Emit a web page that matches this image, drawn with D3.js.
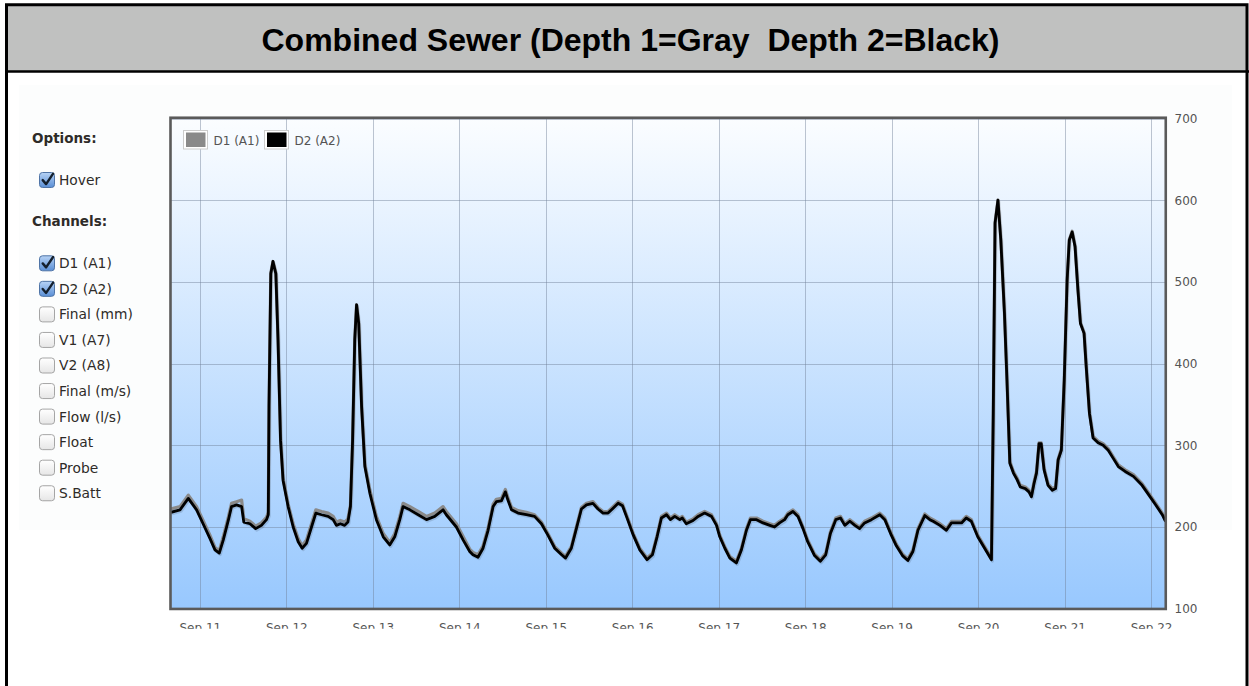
<!DOCTYPE html>
<html><head><meta charset="utf-8">
<script src="https://cdn.jsdelivr.net/npm/d3@7"></script>
<style>
html,body{margin:0;padding:0;background:#fff;overflow:hidden}
svg{display:block}
</style></head><body>
<svg id="c" width="1249" height="686"></svg>
<script>
// ---------------- data ----------------
const titleText = "Combined Sewer (Depth 1=Gray  Depth 2=Black)";
const seriesNames = ["D1 (A1)", "D2 (A2)"];
const seriesColors = ["#8a8a8a", "#000000"];
const yTicks = [100, 200, 300, 400, 500, 600, 700];
const dayTicks = ["2013-09-11","2013-09-12","2013-09-13","2013-09-14","2013-09-15","2013-09-16",
                  "2013-09-17","2013-09-18","2013-09-19","2013-09-20","2013-09-21","2013-09-22"];
const timeStart = "2013-09-10T16:00";
const timeEnd = "2013-09-22T04:00";
const baseDay = "2013-09-11T00:00";
// hours after Sep 11 00:00
const hoursFromSep11 = [
 -8,-5.5,-3.2,-0.9,0.9,2.8,4.2,5.4,6.5,7.9,
 8.8,10.2,11.6,12.2,13.9,15.5,17.1,18.5,19.0,19.2,
 19.7,20.3,21.1,21.7,22.4,23.1,24.5,25.9,27.3,28.4,
 29.6,31.0,32.2,33.8,35.6,37.0,37.9,39.0,40.2,41.1,
 41.8,42.4,43.0,43.5,44.1,44.9,45.8,47.2,49.0,50.9,
 52.7,54.1,55.5,56.4,58.3,60.6,62.9,65.2,67.5,68.4,
 71.2,73.1,74.9,
 75.8,77.2,78.6,80.0,81.4,82.3,83.7,84.8,85.5,86.5,
 88.3,90.6,92.9,94.8,96.6,98.5,100.4,101.5,103.1,104.5,
 105.9,107.3,109.1,110.5,111.9,113.3,114.7,116.1,117.3,118.4,
 120.3,122.1,124.1,125.6,126.9,128.1,129.5,130.6,131.8,133.2,
 133.9,135.0,136.9,138.3,140.1,142.0,143.4,144.3,145.7,147.1,
 148.9,150.3,151.7,152.8,154.5,156.3,158.2,159.5,160.9,162.3,
 163.2,164.6,166.0,167.4,168.7,170.6,172.2,173.7,175.0,176.5,
 177.8,179.0,180.4,181.8,183.1,184.5,186.4,188.7,190.1,191.9,
 193.3,195.0,196.5,197.9,199.3,201.2,202.6,203.5,205.4,207.2,
 208.6,210.4,211.4,212.7,214.1,215.9,217.8,219.7,
 220.2,220.7,221.5,222.3,223.3,224.0,224.8,225.8,226.8,227.7,
 229.1,230.1,230.8,231.5,232.2,232.9,233.5,234.3,235.4,236.6,
 237.5,238.2,239.1,239.9,240.7,241.3,242.1,242.9,243.7,244.4,
 245.4,246.0,246.9,247.9,249.3,250.7,252.1,253.5,254.9,256.8,
 259.1,261.5,263.4,265.3,267.1,268
];
const d1Values = [
 222,225,239,225,208,190,175,171,188,212,
 229,231,233,210,207,201,205,212,218,348,
 511,525,511,431,309,260,228,204,186,177,
 184,204,221,219,217,213,206,208,206,210,
 227,307,430,472,450,349,277,245,213,192,
 181,192,213,229,225,219,213,217,225,219,
 204,188,173,
 169,166,177,199,228,234,235,246,236,224,
 220,218,215,206,192,176,168,164,176,200,
 224,229,231,224,219,219,225,231,228,215,
 192,174,162,168,190,213,217,211,215,211,
 213,206,210,215,219,215,204,190,176,164,
 158,174,198,211,211,207,204,202,207,211,
 217,221,215,200,184,167,160,168,194,211,
 213,204,209,204,200,207,211,217,211,192,
 179,167,161,172,198,216,211,209,204,198,
 207,207,207,213,209,190,176,162,
 341,573,600,552,463,381,280,268,260,251,
 249,245,239,255,268,303,303,272,253,247,
 249,283,296,381,503,552,562,544,491,450,
 438,397,340,311,305,302,296,286,276,270,
 264,253,241,229,217,209
];
const d2Values = [
 218,221,235,221,204,186,172,168,184,208,
 225,227,225,206,204,198,202,209,215,347,
 510,525,510,429,306,257,225,200,182,174,
 180,200,217,215,213,209,202,204,202,206,
 225,306,429,472,449,347,274,241,209,188,
 178,188,209,225,221,215,209,213,221,215,
 200,184,170,
 166,163,174,196,225,231,232,243,233,221,
 217,215,213,204,190,174,166,162,174,198,
 222,227,229,222,217,217,223,229,226,213,
 190,172,160,166,188,211,215,209,213,209,
 211,204,208,213,217,213,202,188,174,162,
 156,172,196,209,209,205,202,200,205,209,
 215,219,213,198,182,165,158,166,192,209,
 211,202,207,202,198,205,209,215,209,190,
 177,165,159,170,196,214,209,207,202,196,
 205,205,205,211,207,188,174,160,
 339,572,600,551,462,380,278,266,258,249,
 247,243,237,253,266,302,302,270,251,245,
 247,282,294,380,502,551,561,543,490,449,
 437,396,339,309,303,300,294,284,274,268,
 262,251,239,227,215,207
];
const optionLabels = ["Hover"];
const optionChecked = [true];
const channelLabels = ["D1 (A1)","D2 (A2)","Final (mm)","V1 (A7)","V2 (A8)","Final (m/s)","Flow (l/s)","Float","Probe","S.Batt"];
const channelChecked = [true,true,false,false,false,false,false,false,false,false];

// ---------------- drawing ----------------
const svg = d3.select("#c");
const parse = d3.timeParse("%Y-%m-%dT%H:%M");
const parseDay = d3.timeParse("%Y-%m-%d");
const base = parse(baseDay);
const toDate = h => new Date(base.getTime() + h * 3600000);

const plot = {left: 171, right: 1165.5, top: 118.5, bottom: 608.7};
const x = d3.scaleTime().domain([parse(timeStart), parse(timeEnd)]).range([plot.left, plot.right]);
const y = d3.scaleLinear().domain([100, 700]).range([plot.bottom, plot.top]);

const defs = svg.append("defs");
const bg = defs.append("linearGradient").attr("id","bg").attr("x1",0).attr("y1",0).attr("x2",0).attr("y2",1);
bg.append("stop").attr("offset","0%").attr("stop-color","#fbfdff");
bg.append("stop").attr("offset","100%").attr("stop-color","#98c8fe");
const cbOn = defs.append("linearGradient").attr("id","cbOn").attr("x1",0).attr("y1",0).attr("x2",0).attr("y2",1);
cbOn.append("stop").attr("offset","0%").attr("stop-color","#b7d3f5");
cbOn.append("stop").attr("offset","100%").attr("stop-color","#5a8fd6");
const cbOff = defs.append("linearGradient").attr("id","cbOff").attr("x1",0).attr("y1",0).attr("x2",0).attr("y2",1);
cbOff.append("stop").attr("offset","0%").attr("stop-color","#ffffff");
cbOff.append("stop").attr("offset","100%").attr("stop-color","#e6e6e6");
defs.append("clipPath").attr("id","plotClip").append("rect")
  .attr("x",plot.left).attr("y",plot.top).attr("width",plot.right-plot.left).attr("height",plot.bottom-plot.top);
defs.append("clipPath").attr("id","xLabClip").append("rect")
  .attr("x",100).attr("y",610).attr("width",1149).attr("height",18.8);

// page panels
svg.append("rect").attr("x",19).attr("y",85).attr("width",1213).attr("height",445).attr("fill","#fcfdfd");
svg.append("rect").attr("x",6.5).attr("y",4.75).attr("width",1240.5).attr("height",66.75).attr("fill","#c0c1c0");
svg.append("rect").attr("x",6.5).attr("y",4.75).attr("width",1240.5).attr("height",720)
  .attr("fill","none").attr("stroke","#000").attr("stroke-width",3);
svg.append("line").attr("x1",5).attr("x2",1249).attr("y1",71.5).attr("y2",71.5).attr("stroke","#000").attr("stroke-width",2.5);
svg.append("text").attr("x",630.5).attr("y",51).attr("text-anchor","middle")
  .attr("xml:space","preserve").style("white-space","pre")
  .attr("font-family","'Liberation Sans', Arial, sans-serif").attr("font-weight","bold").attr("font-size",32)
  .attr("fill","#000").text(titleText);

// plot background
svg.append("rect").attr("x",plot.left).attr("y",plot.top).attr("width",plot.right-plot.left)
  .attr("height",plot.bottom-plot.top).attr("fill","url(#bg)");

// grid
const grid = svg.append("g").attr("stroke","#6f7f96").attr("stroke-opacity",0.45).attr("stroke-width",1);
grid.selectAll("line.h").data(yTicks).join("line").attr("class","h")
  .attr("x1",plot.left).attr("x2",plot.right).attr("y1",d=>Math.round(y(d))+0.5).attr("y2",d=>Math.round(y(d))+0.5);
grid.selectAll("line.v").data(dayTicks.map(parseDay)).join("line").attr("class","v")
  .attr("y1",plot.top).attr("y2",plot.bottom).attr("x1",d=>Math.round(x(d))+0.5).attr("x2",d=>Math.round(x(d))+0.5);

// series
const line = d3.line().x(d=>x(toDate(d[0]))).y(d=>y(d[1])).curve(d3.curveLinear);
const lines = svg.append("g").attr("clip-path","url(#plotClip)");
const d1 = hoursFromSep11.map((h,i)=>[h,d1Values[i]]);
const d2 = hoursFromSep11.map((h,i)=>[h,d2Values[i]]);
lines.append("path").attr("d",line(d2)).attr("fill","none").attr("stroke","rgba(0,0,0,0.12)")
  .attr("stroke-width",3).attr("transform","translate(1,1.5)").attr("stroke-linejoin","round");
lines.append("path").attr("d",line(d1)).attr("fill","none").attr("stroke",seriesColors[0])
  .attr("stroke-width",3.2).attr("stroke-linejoin","round");
lines.append("path").attr("d",line(d2)).attr("fill","none").attr("stroke",seriesColors[1])
  .attr("stroke-width",2.8).attr("stroke-linejoin","round");

// plot border
svg.append("rect").attr("x",plot.left-0.5).attr("y",plot.top-0.75).attr("width",plot.right-plot.left+0.75)
  .attr("height",plot.bottom-plot.top+1).attr("fill","none").attr("stroke","#5a5a5a").attr("stroke-width",2.6);

// axes
const font = "'DejaVu Sans', Verdana, sans-serif";
const yAxis = svg.append("g").attr("transform",`translate(${plot.right},0)`)
  .call(d3.axisRight(y).tickValues(yTicks).tickSize(0).tickPadding(9).tickFormat(d3.format("d")));
yAxis.select(".domain").remove();
yAxis.selectAll("text").attr("font-family",font).attr("font-size",12).attr("fill","#545454");

const xAxis = svg.append("g").attr("clip-path","url(#xLabClip)").append("g")
  .attr("transform",`translate(0,${plot.bottom})`)
  .call(d3.axisBottom(x).tickValues(dayTicks.map(parseDay)).tickSize(0).tickPadding(14.8).tickFormat(d3.timeFormat("%b %d")));
xAxis.select(".domain").remove();
xAxis.selectAll("text").attr("font-family",font).attr("font-size",12).attr("fill","#545454");

// legend
const leg = svg.append("g").attr("font-family",font).attr("font-size",12);
const legX = [183.5, 264.5];
seriesNames.forEach((n,i)=>{
  const g = leg.append("g").attr("transform",`translate(${legX[i]},130.5)`);
  g.append("rect").attr("width",24).attr("height",18.5).attr("fill","#fff").attr("stroke","#cccccc").attr("stroke-width",1);
  g.append("rect").attr("x",2.5).attr("y",2).attr("width",19.5).attr("height",14.5).attr("fill",seriesColors[i]);
  g.append("text").attr("x",30).attr("y",14.5).attr("fill","#545454").text(n);
});

// options panel
const panel = svg.append("g").attr("font-family",font).attr("fill","#2e2b28");
function heading(txt, cy){
  panel.append("text").attr("x",32).attr("y",cy).attr("dy","0.36em").attr("font-weight","bold")
    .attr("font-size",13.5).text(txt);
}
function checkbox(label, checked, cy){
  const g = panel.append("g").attr("transform",`translate(39.5,${cy-7.5})`);
  g.append("rect").attr("width",15).attr("height",15).attr("rx",3)
    .attr("fill",checked?"url(#cbOn)":"url(#cbOff)").attr("stroke",checked?"#4f74a6":"#a5a5a5").attr("stroke-width",1);
  if(checked){
    g.append("path").attr("d","M3.2,7.6 L6.6,11.6 L13.6,1.2").attr("fill","none")
      .attr("stroke","#14202e").attr("stroke-width",2.4).attr("stroke-linecap","round").attr("stroke-linejoin","round");
  }
  panel.append("text").attr("x",59).attr("y",cy).attr("dy","0.36em").attr("font-size",13.8).text(label);
}
heading("Options:", 138);
optionLabels.forEach((l,i)=>checkbox(l, optionChecked[i], 180 + i*25.6));
heading("Channels:", 221.5);
channelLabels.forEach((l,i)=>checkbox(l, channelChecked[i], 263.3 + i*25.55));
</script>
</body></html>
